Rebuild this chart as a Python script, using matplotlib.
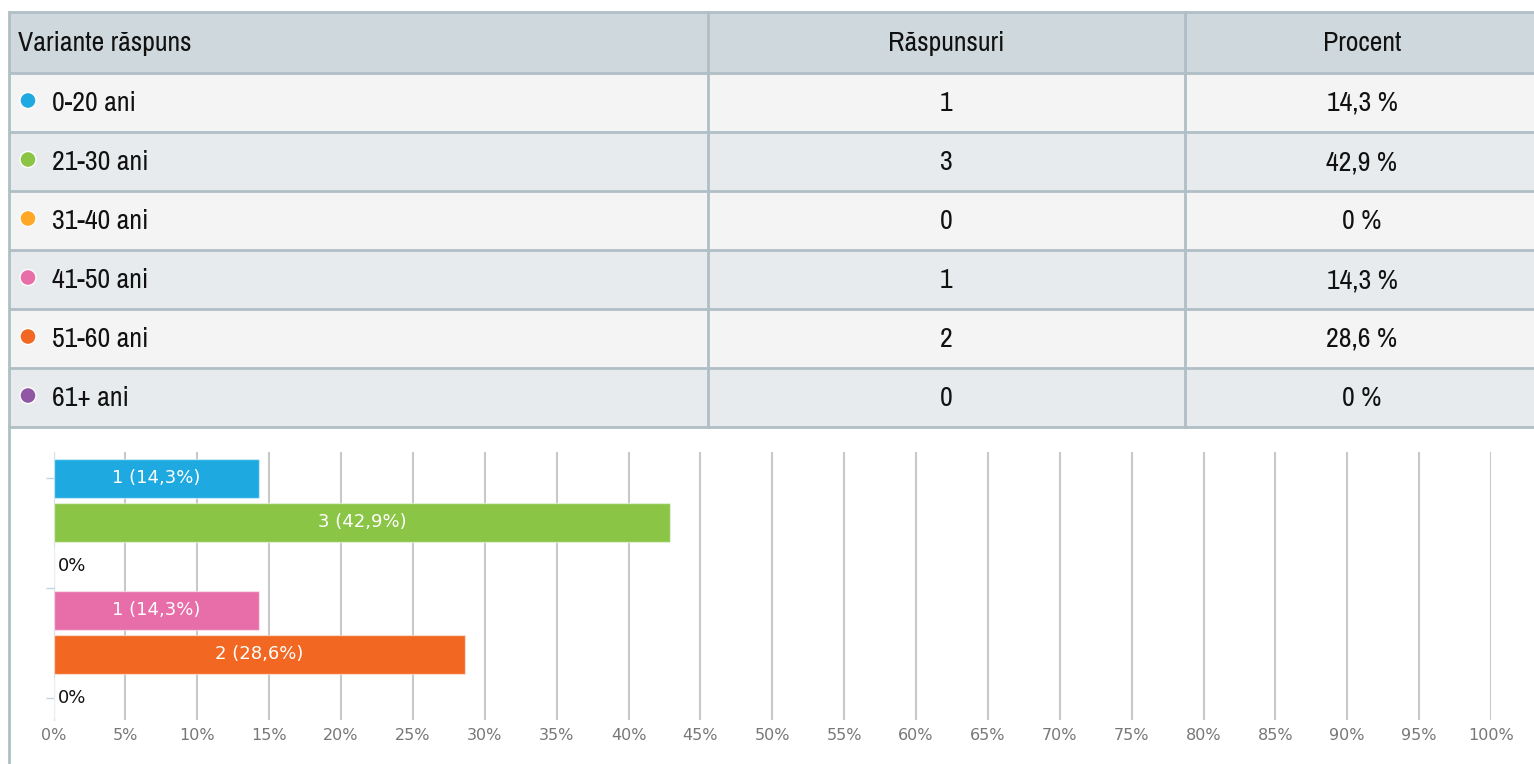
import matplotlib
matplotlib.use('Agg')
import matplotlib.pyplot as plt
from matplotlib import font_manager
from matplotlib.patches import Rectangle, Circle

# data
categories = ['0-20 ani', '21-30 ani', '31-40 ani', '41-50 ani', '51-60 ani', '61+ ani']
responses = [1, 3, 0, 1, 2, 0]
percents = [14.3, 42.9, 0, 14.3, 28.6, 0]
colors = ['#1FA9E1', '#8BC546', '#FFA726', '#E76EA9', '#F26822', '#9057A5']
headers = ['Variante răspuns', 'Răspunsuri', 'Procent']
xticks = list(range(0, 101, 5))

# narrow font for the table if there is one
names = sorted(font_manager.get_font_names())
narrow_list = [n for n in names if 'Narrow' in n or 'Condensed' in n]
narrow = narrow_list[0] if narrow_list else 'Roboto'
fs = 20 if narrow_list else 17

def fmt(p):
    return ('%g' % p).replace('.', ',')

W, H = 1534, 764
fig = plt.figure(figsize=(W / 100, H / 100), dpi=100)

# table drawn in pixel coords
tb = fig.add_axes([0, 0, 1, 1])
tb.set_xlim(0, W)
tb.set_ylim(H, 0)
tb.axis('off')

border = '#B0BEC5'
top, head_h, row_h = 12, 61, 59
col_x = [9, 708, 1185]

tb.add_patch(Rectangle((9, top), W, head_h, fc='#CFD8DC', ec='none'))
for i in range(len(categories)):
    y0 = top + head_h + i * row_h
    fc = '#F4F4F4' if i % 2 == 0 else '#E8EBED'
    tb.add_patch(Rectangle((9, y0), W, row_h, fc=fc, ec='none'))

y_end = top + head_h + len(categories) * row_h
for k in range(len(categories) + 2):
    y = top if k == 0 else top + head_h + (k - 1) * row_h
    tb.plot([9, W], [y, y], color=border, lw=2, solid_capstyle='butt')
for x in col_x:
    tb.plot([x, x], [top, y_end], color=border, lw=2)
tb.plot([9, 9], [y_end, H], color=border, lw=2)

txt = dict(fontsize=fs, family=narrow, va='center', color='#111111')
tb.text(18, top + head_h / 2 + 1, headers[0], ha='left', **txt)
tb.text(946, top + head_h / 2 + 1, headers[1], ha='center', **txt)
tb.text(1362, top + head_h / 2 + 1, headers[2], ha='center', **txt)

for i, (cat, r, p, c) in enumerate(zip(categories, responses, percents, colors)):
    yc = top + head_h + i * row_h + row_h / 2
    tb.add_patch(Circle((28, yc - 2), 8, fc=c, ec='white', lw=1))
    tb.text(52, yc + 1, cat, ha='left', **txt)
    tb.text(946, yc + 1, str(r), ha='center', **txt)
    tb.text(1362, yc + 1, fmt(p) + ' %', ha='center', **txt)

# bar chart
x0, x1, y0, y1 = 53.5, 1491, 452, 720
ax = fig.add_axes([x0 / W, 1 - y1 / H, (x1 - x0) / W, (y1 - y0) / H])
ypos = list(range(len(categories)))
ax.barh(ypos, percents, height=0.89, color=colors, edgecolor='#FFFFFF80', lw=1, zorder=3)
ax.set_xlim(0, 100)
ax.set_ylim(len(categories) - 0.5, -0.6)
ax.set_xticks(xticks)
ax.set_xticklabels([f'{t}%' for t in xticks], color='#777777', fontsize=11.5)
ax.grid(axis='x', color='#C8C8C8', lw=1.5, zorder=0)
ax.set_yticks([0, 2.5, 5])
ax.set_yticklabels([])
ax.tick_params(axis='x', length=0, pad=6)
ax.tick_params(axis='y', length=6, color='#C5D3E0', width=1)
for s in ['top', 'right', 'bottom']:
    ax.spines[s].set_visible(False)
ax.spines['left'].set_color('#D5DFEA')

for y, r, p in zip(ypos, responses, percents):
    if p > 0:
        ax.text(p / 2, y, f'{r} ({fmt(p)}%)', color='white', fontsize=13, ha='center', va='center', zorder=4)
    else:
        ax.text(0.3, y, '0%', color='#111111', fontsize=13, ha='left', va='center', zorder=4)

fig.savefig('out.png', dpi=100)
